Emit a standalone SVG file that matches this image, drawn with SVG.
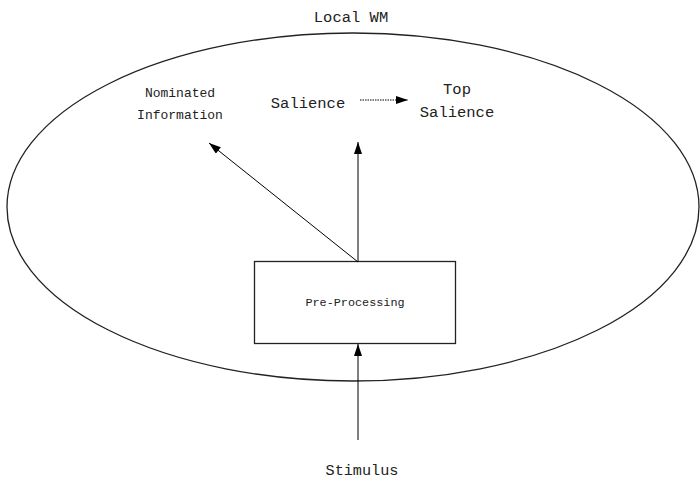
<svg xmlns="http://www.w3.org/2000/svg" width="700" height="479" viewBox="0 0 700 479">
  <style>
    .lbl { font-family: "Liberation Mono", "DejaVu Sans Mono", monospace; fill: #222; text-anchor: middle; }
    .edge { stroke: #000; stroke-width: 1; fill: none; }
    .shape { stroke: #222; stroke-width: 1.3; fill: none; }
  </style>
  <defs>
    <marker id="head" viewBox="0 0 12 8" refX="12" refY="4" markerWidth="12" markerHeight="8" markerUnits="userSpaceOnUse" orient="auto">
      <path d="M0,0 L12,4 L0,8 Z" fill="#000"/>
    </marker>
  </defs>

  <!-- working-memory boundary -->
  <g id="local-wm">
    <ellipse class="shape" cx="353" cy="207" rx="346" ry="174"/>
    <text class="lbl" x="351" y="22" font-size="15.5">Local WM</text>
  </g>

  <g id="nominated">
    <text class="lbl" x="180" y="97" font-size="13">Nominated</text>
    <text class="lbl" x="180" y="119" font-size="13">Information</text>
  </g>

  <g id="salience">
    <text class="lbl" x="308" y="108" font-size="15.5">Salience</text>
  </g>

  <g id="top-salience">
    <text class="lbl" x="457" y="94" font-size="15.5">Top</text>
    <text class="lbl" x="457" y="117" font-size="15.5">Salience</text>
  </g>

  <g id="pre-processing">
    <rect class="shape" x="254.5" y="261.5" width="201" height="82"/>
    <text class="lbl" x="355" y="306" font-size="11.8">Pre-Processing</text>
  </g>

  <g id="stimulus">
    <text class="lbl" x="362" y="475" font-size="15.2">Stimulus</text>
  </g>

  <g id="connectors">
    <line class="edge" x1="358" y1="262" x2="358" y2="142" marker-end="url(#head)"/>
    <line class="edge" x1="358" y1="262" x2="209" y2="143" marker-end="url(#head)"/>
    <line class="edge" x1="358" y1="440" x2="358" y2="344" marker-end="url(#head)"/>
    <line class="edge" x1="360" y1="100" x2="408" y2="100" stroke-dasharray="1.5 1" marker-end="url(#head)"/>
  </g>
</svg>
